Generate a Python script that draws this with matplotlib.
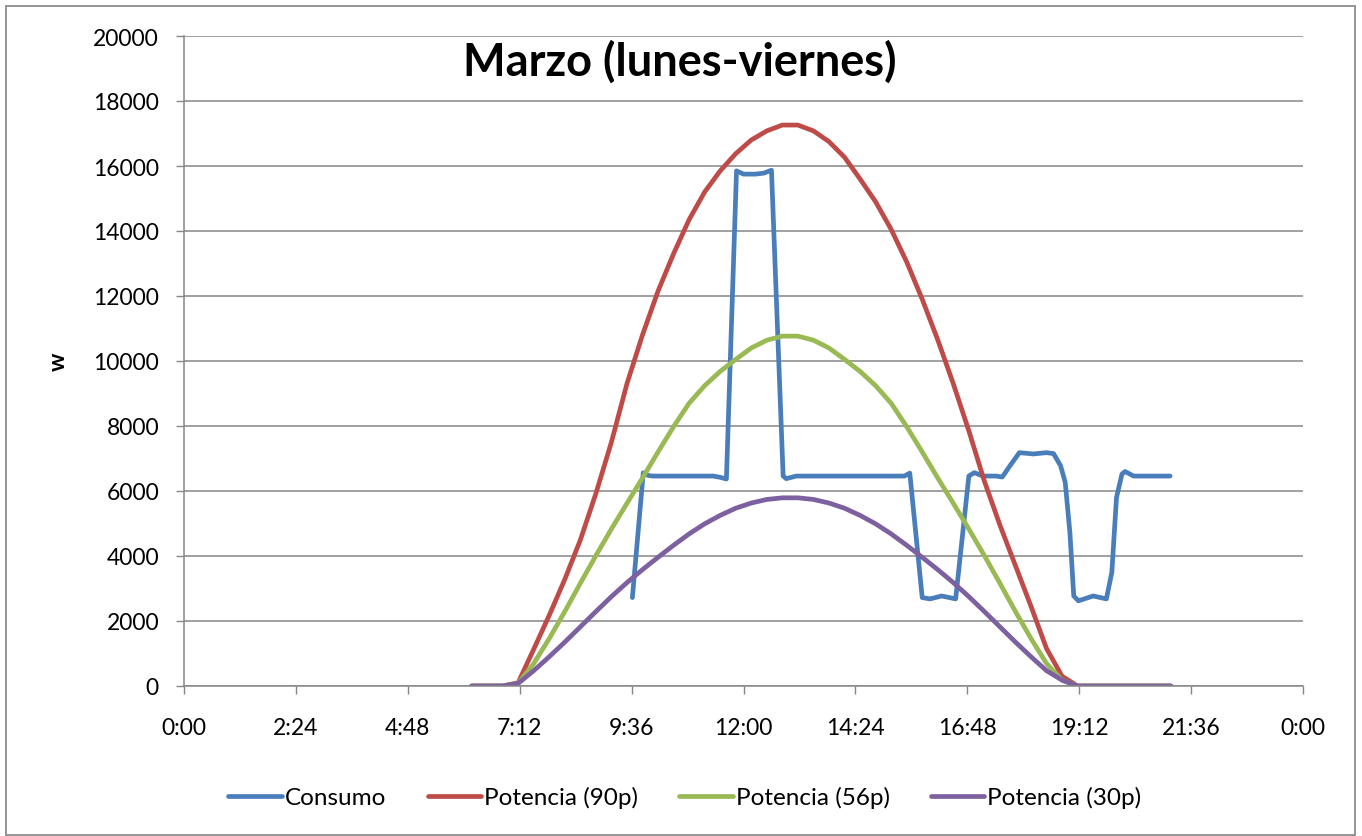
import matplotlib
matplotlib.use("Agg")
import matplotlib.pyplot as plt
from matplotlib.patches import Rectangle

plt.rcParams['font.family'] = ['Lato', 'DejaVu Sans']

# tiempos de las curvas de potencia (cada 20 min)
power_times = ["6:10", "6:30", "6:50", "7:10", "7:30", "7:50", "8:10", "8:30", "8:50",
               "9:10", "9:30", "9:50", "10:10", "10:30", "10:50", "11:10", "11:30", "11:50",
               "12:10", "12:30", "12:50", "13:10", "13:30", "13:50", "14:10", "14:30", "14:50",
               "15:10", "15:30", "15:50", "16:10", "16:30", "16:50", "17:10", "17:30", "17:50",
               "18:10", "18:30", "18:50", "19:10", "19:30", "19:50", "20:10", "20:30", "20:50",
               "21:10"]

pot_90 = [0, 0, 0, 100, 1130, 2175, 3280, 4490, 5920,
          7500, 9300, 10800, 12150, 13300, 14350, 15200, 15850, 16380,
          16800, 17080, 17260, 17260, 17080, 16750, 16270, 15600, 14900,
          14050, 13050, 11900, 10650, 9300, 7850, 6300, 4950, 3700,
          2450, 1150, 300, 0, 0, 0, 0, 0, 0,
          0]

pot_56 = [0, 0, 0, 80, 690, 1460, 2290, 3160, 4010,
          4830, 5620, 6400, 7200, 7980, 8700, 9240, 9680, 10050,
          10400, 10640, 10765, 10765, 10640, 10400, 10050, 9680, 9240,
          8700, 7980, 7200, 6400, 5620, 4830, 4010, 3160, 2290,
          1460, 690, 180, 0, 0, 0, 0, 0, 0,
          0]

pot_30 = [0, 0, 0, 80, 470, 900, 1350, 1820, 2290,
          2750, 3180, 3580, 3960, 4330, 4680, 4990, 5250, 5470,
          5630, 5740, 5790, 5790, 5740, 5630, 5470, 5250, 4990,
          4680, 4330, 3960, 3580, 3180, 2750, 2290, 1820, 1350,
          900, 470, 180, 0, 0, 0, 0, 0, 0,
          0]

# consumo
consumo_times = ["9:37", "9:51", "9:57", "10:03", "11:21", "11:30", "11:38", "11:51", "12:00",
                 "12:15", "12:26", "12:36", "12:51", "12:55", "13:08", "15:27", "15:34", "15:50",
                 "16:00", "16:15", "16:33", "16:50", "16:57", "17:08", "17:25", "17:33", "17:43",
                 "17:55", "18:13", "18:30", "18:39", "18:48", "18:54", "19:00", "19:05", "19:11",
                 "19:30", "19:47", "19:54", "20:00", "20:07", "20:11", "20:22", "21:09"]
consumo = [2720, 6560, 6480, 6460, 6460, 6420, 6370, 15850, 15750,
           15750, 15780, 15870, 6460, 6380, 6460, 6460, 6550, 2720,
           2680, 2770, 2680, 6460, 6565, 6460, 6460, 6430, 6780,
           7180, 7140, 7180, 7150, 6780, 6270, 4730, 2770, 2620,
           2770, 2680, 3500, 5800, 6520, 6600, 6460, 6460]

x_ticks = [0, 2.4, 4.8, 7.2, 9.6, 12, 14.4, 16.8, 19.2, 21.6, 24]
x_labels = ["0:00", "2:24", "4:48", "7:12", "9:36", "12:00", "14:24", "16:48", "19:12", "21:36", "0:00"]


def to_hours(t):
    h, m = t.split(":")
    return int(h) + int(m) / 60


tp = [to_hours(t) for t in power_times]
tc = [to_hours(t) for t in consumo_times]

fig = plt.figure(figsize=(13.62, 8.37), dpi=100)
ax = fig.add_axes([184 / 1362, 1 - 687 / 837, (1303 - 184) / 1362, 650 / 837])

lw = 3.4
style = dict(lw=lw, solid_joinstyle='round', solid_capstyle='round')
ax.plot(tc, consumo, color='#4A7EBB', label='Consumo', **style)
ax.plot(tp, pot_90, color='#BE4B48', label='Potencia (90p)', **style)
ax.plot(tp, pot_56, color='#98B954', label='Potencia (56p)', **style)
ax.plot(tp, pot_30, color='#7D60A0', label='Potencia (30p)', **style)

ax.set_xlim(0, 24)
ax.set_ylim(0, 20000)
ax.set_xticks(x_ticks)
ax.set_xticklabels(x_labels)
ax.set_yticks(range(0, 20001, 2000))
ax.tick_params(axis='both', labelsize=16.5, color='#868686', length=6, width=1)
ax.tick_params(axis='y', pad=12)
ax.tick_params(axis='x', pad=16)
ax.grid(axis='y', color='#868686', lw=1.1)
ax.set_axisbelow(True)
for s in ['top', 'right']:
    ax.spines[s].set_visible(False)
for s in ['left', 'bottom']:
    ax.spines[s].set_color('#868686')
    ax.spines[s].set_linewidth(1.1)

fig.text(680 / 1362, 1 - 62 / 837, 'Marzo (lunes-viernes)', fontsize=32.5, fontweight='bold',
         ha='center', va='center')
fig.text(58 / 1362, 1 - 362 / 837, 'w', fontsize=16.5, fontweight='bold', rotation=90,
         ha='center', va='center')

fig.legend(loc='center', bbox_to_anchor=(685 / 1362, 1 - 798 / 837), ncol=4, frameon=False,
           fontsize=17.5, handlelength=2.2, handletextpad=0.12, columnspacing=1.7)

fig.patches.append(Rectangle((6 / 1362, 1 / 837), 1349 / 1362, 829 / 837, transform=fig.transFigure,
                             fill=False, ec='#8c8c8c', lw=1.3))

fig.savefig('out.png', dpi=100)
